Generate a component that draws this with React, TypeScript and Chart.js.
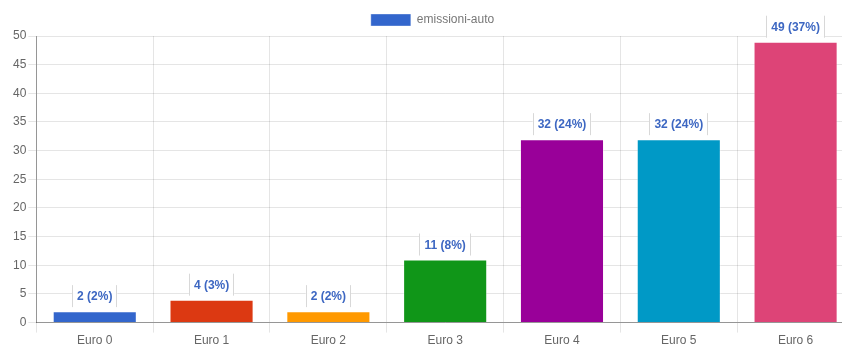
import React, { useEffect, useRef } from "react";
import { Chart, registerables } from "chart.js";

Chart.register(...registerables);

const categories = ["Euro 0", "Euro 1", "Euro 2", "Euro 3", "Euro 4", "Euro 5", "Euro 6"];
const values = [2, 4, 2, 11, 32, 32, 49];
const barColors = ["#3366cc", "#dc3912", "#ff9900", "#109618", "#990099", "#0099c6", "#dd4477"];
const seriesLabel = "emissioni-auto";

const labelPlugin = {
  id: "valueLabels",
  afterDatasetsDraw(chart: any) {
    const ctx = chart.ctx;
    const meta = chart.getDatasetMeta(0);
    const data = chart.data.datasets[0].data as number[];
    const total = data.reduce((a, b) => a + b, 0);
    ctx.save();
    ctx.font = "bold 12px 'Liberation Sans', Arial, sans-serif";
    ctx.textAlign = "center";
    ctx.textBaseline = "middle";
    meta.data.forEach((bar: any, i: number) => {
      const v = data[i];
      const txt = `${v} (${Math.round((v / total) * 100)}%)`;
      const w = ctx.measureText(txt).width + 10;
      const h = 22;
      const bottom = bar.y - 4;
      const left = bar.x - w / 2;
      ctx.fillStyle = "rgba(255,255,255,0.9)";
      ctx.fillRect(left, bottom - h, w, h);
      ctx.strokeStyle = "#d8d8d8";
      ctx.lineWidth = 1;
      ctx.beginPath();
      ctx.moveTo(Math.round(left) + 0.5, bottom - h);
      ctx.lineTo(Math.round(left) + 0.5, bottom);
      ctx.moveTo(Math.round(left + w) - 0.5, bottom - h);
      ctx.lineTo(Math.round(left + w) - 0.5, bottom);
      ctx.stroke();
      ctx.fillStyle = "#3d67c2";
      ctx.fillText(txt, bar.x, bottom - h / 2 + 1);
    });
    ctx.restore();
  },
};

export default function App() {
  const ref = useRef<HTMLCanvasElement | null>(null);
  useEffect(() => {
    if (!ref.current) return;
    Chart.defaults.font.family = "'Liberation Sans', Arial, sans-serif";
    Chart.defaults.font.size = 12;
    Chart.defaults.color = "#666";
    const chart = new Chart(ref.current, {
      type: "bar",
      data: {
        labels: categories,
        datasets: [
          {
            label: seriesLabel,
            data: values,
            backgroundColor: barColors,
            borderColor: "rgba(255,255,255,0.35)",
            borderWidth: 1,
          },
        ],
      },
      options: {
        responsive: false,
        animation: false,
        devicePixelRatio: 1,
        layout: { padding: { left: 11, right: 10, top: 4, bottom: 0 } },
        plugins: {
          legend: {
            display: true,
            position: "top",
            labels: { boxWidth: 40, color: "#777" },
          },
          tooltip: { enabled: false },
        },
        scales: {
          x: {
            grid: { color: "rgba(0,0,0,0.1)", tickLength: 10 },
            border: { color: "rgba(0,0,0,0.35)" },
            ticks: { color: "#666", padding: 1 },
          },
          y: {
            min: 0,
            max: 50,
            ticks: { stepSize: 5, color: "#666", padding: 2 },
            grid: { color: "rgba(0,0,0,0.1)", tickLength: 8 },
            border: { color: "rgba(0,0,0,0.35)" },
          },
        },
      },
      plugins: [labelPlugin],
    });
    return () => chart.destroy();
  }, []);
  return (
    <div style={{ position: "absolute", left: 0, top: 0, width: 864, height: 349 }}>
      <canvas ref={ref} width={864} height={349} />
    </div>
  );
}
